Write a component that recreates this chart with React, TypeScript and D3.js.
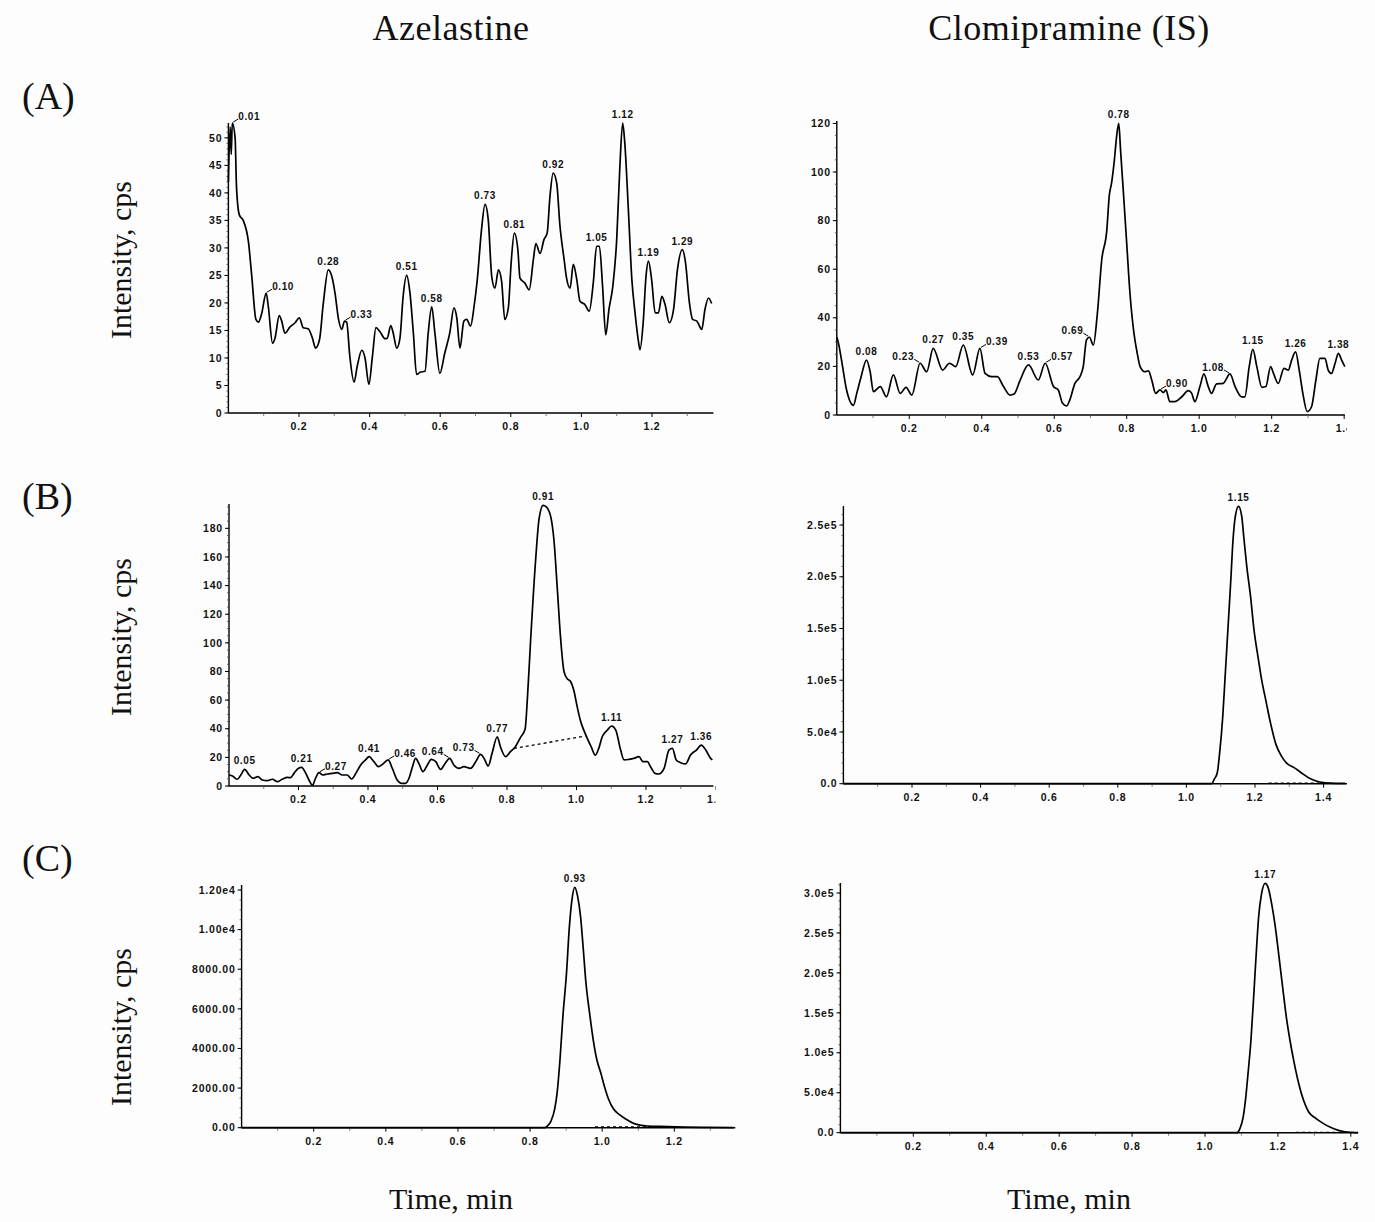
import React from 'react';
import * as d3 from 'd3';

const W = 1375;
const H = 1222;

// ---------- DATA ----------
const colTitles = ['Azelastine', 'Clomipramine (IS)'];
const rowTitles = ['(A)', '(B)', '(C)'];
const yTitle = 'Intensity, cps';
const xTitle = 'Time, min';

// (A) Azelastine blank
const aAze: [number, number][] = [
  [0.000,42],[0.005,52],[0.008,47],[0.011,52.7],[0.019,50],[0.023,41],[0.031,36],[0.042,35],[0.057,31],[0.066,25],
  [0.078,17],[0.085,16.5],[0.094,18],[0.107,21.8],[0.113,19.4],[0.125,12.7],[0.132,13.6],[0.144,17.7],[0.151,16.7],[0.160,14.5],
  [0.174,15.6],[0.189,16.4],[0.201,17.3],[0.212,15.5],[0.226,15.3],[0.238,13.6],[0.247,11.8],[0.258,13.3],[0.269,20],[0.283,26],
  [0.293,24.8],[0.302,21.8],[0.312,17],[0.321,15.2],[0.329,16.7],[0.335,16.5],[0.344,10.3],[0.356,5.6],[0.365,8.5],[0.378,11.4],
  [0.387,10],[0.398,5.2],[0.408,10.3],[0.418,15.5],[0.429,14.8],[0.444,13.5],[0.450,13.6],[0.460,15.9],[0.467,14.5],[0.477,11.8],
  [0.486,13.6],[0.495,21.2],[0.505,25],[0.514,22],[0.524,14.5],[0.533,7],[0.543,7.4],[0.557,7.6],[0.566,14.5],[0.576,19.3],
  [0.585,14.5],[0.599,7.2],[0.613,10.9],[0.627,14.5],[0.639,19.1],[0.647,17.3],[0.656,11.8],[0.667,16.7],[0.675,17],[0.686,15.8],
  [0.696,19.4],[0.705,24.2],[0.717,33.3],[0.727,37.9],[0.736,35.2],[0.746,24.8],[0.755,22.7],[0.765,26],[0.774,23.9],[0.783,17],
  [0.793,19.1],[0.801,27.3],[0.810,32.7],[0.820,29.7],[0.826,24.5],[0.840,23.6],[0.852,22.4],[0.864,27.9],[0.871,30.8],[0.883,29],
  [0.894,31.5],[0.903,32.7],[0.911,39.4],[0.920,43.6],[0.930,41.8],[0.939,34.2],[0.951,27.9],[0.958,24.5],[0.968,22.7],[0.977,27],
  [0.987,24.2],[0.996,20.3],[1.010,19.7],[1.022,18.5],[1.034,23.9],[1.043,30.3],[1.051,30.3],[1.060,23],[1.069,14.2],[1.078,18.8],
  [1.089,23],[1.100,31.5],[1.109,44.8],[1.117,52.7],[1.123,49],[1.133,37],[1.143,24.2],[1.152,18.2],[1.161,13.3],[1.166,11.5],
  [1.175,16.4],[1.183,24.8],[1.190,27.6],[1.199,24.2],[1.209,18.2],[1.218,18.2],[1.228,21.2],[1.237,19.7],[1.249,16.4],[1.261,18.8],
  [1.272,26],[1.286,29.7],[1.295,27.3],[1.306,20],[1.315,17],[1.327,16.7],[1.341,15.2],[1.350,18.8],[1.360,20.9],[1.369,19.9],
];
const aAzePeaks = ['0.01','0.10','0.28','0.33','0.51','0.58','0.73','0.81','0.92','1.05','1.12','1.19','1.29'];
const aAzeSide: Record<string, string> = { '0.01': 'r', '0.10': 'r', '0.33': 'r' };

// (A) Clomipramine blank
const aIs: [number, number][] = [
  [0.000,32],[0.004,30],[0.013,22.6],[0.027,10.3],[0.046,4],[0.055,8.9],[0.066,15.1],[0.082,22.6],[0.092,17.8],[0.101,9.6],
  [0.120,11.7],[0.137,7.5],[0.156,16.5],[0.175,8.9],[0.191,11.4],[0.207,8.2],[0.230,21.3],[0.248,17.8],[0.266,27.4],[0.292,18.5],
  [0.311,21.3],[0.328,19.9],[0.349,28.8],[0.375,16.5],[0.395,27.4],[0.409,17.1],[0.427,15.8],[0.443,15.8],[0.460,11.7],[0.478,8.2],
  [0.489,8.6],[0.506,14.4],[0.529,20.6],[0.556,14.4],[0.575,21.3],[0.598,11.7],[0.611,10.3],[0.623,4.8],[0.634,3.7],[0.643,6.2],
  [0.657,13],[0.671,15.8],[0.680,19.9],[0.689,30.9],[0.697,32],[0.708,28.8],[0.719,41.8],[0.731,63.8],[0.745,76],[0.752,90.5],
  [0.758,95.3],[0.766,105],[0.772,114.5],[0.778,120],[0.783,109],[0.791,91.2],[0.800,70.6],[0.809,50],[0.820,33.6],[0.829,25.4],
  [0.837,19.9],[0.850,17.8],[0.860,18.2],[0.869,14.4],[0.880,8.9],[0.892,10.3],[0.901,9.2],[0.908,10.3],[0.919,5.5],[0.933,5.5],
  [0.952,7.5],[0.970,10],[0.979,9],[0.988,5.5],[1.002,11.7],[1.013,16.9],[1.025,11.7],[1.034,8.9],[1.048,12.8],[1.066,13],
  [1.085,16.9],[1.099,11.7],[1.117,7.5],[1.126,7.5],[1.138,19.9],[1.148,27],[1.159,19.9],[1.173,11.4],[1.184,11.7],[1.197,19.9],
  [1.205,17.1],[1.218,13],[1.234,19.2],[1.246,18.5],[1.255,22.6],[1.266,26],[1.276,18.5],[1.286,8.9],[1.298,1.4],[1.310,3.4],
  [1.322,14.4],[1.333,23.3],[1.347,23.3],[1.356,18.5],[1.365,17.1],[1.375,21.3],[1.384,25.4],[1.393,22.6],[1.402,19.9],
];
const aIsPeaks = ['0.08','0.23','0.27','0.35','0.39','0.53','0.57','0.69','0.78','0.90','1.08','1.15','1.26','1.38'];
const aIsSide: Record<string, string> = { '0.23': 'l', '0.39': 'r', '0.57': 'r', '0.69': 'l', '0.90': 'r', '1.08': 'l' };

// (B) Azelastine LLOQ
const bAze: [number, number][] = [
  [0.000,7.7],[0.010,7],[0.024,4.7],[0.034,7.7],[0.045,11.6],[0.058,7.7],[0.069,5.4],[0.083,6.5],[0.096,4.2],[0.110,3.7],
  [0.125,4.7],[0.139,3],[0.153,4.7],[0.168,6],[0.177,5.8],[0.187,8.8],[0.199,12.3],[0.209,13],[0.221,8.8],[0.230,4.2],
  [0.240,0.5],[0.249,5.4],[0.259,9.3],[0.270,7.7],[0.283,8.4],[0.297,8.8],[0.312,9.3],[0.326,7.7],[0.340,7.7],[0.353,4.9],
  [0.365,8.8],[0.379,14.7],[0.393,18.2],[0.403,20.5],[0.417,17],[0.430,13.5],[0.443,15.4],[0.458,18.2],[0.470,12.3],[0.484,4.2],
  [0.497,1.9],[0.508,1.9],[0.518,5.4],[0.528,13.5],[0.537,19.3],[0.547,15.4],[0.558,10],[0.571,14.7],[0.582,18.6],[0.595,17],
  [0.609,11.6],[0.621,15.4],[0.635,19.3],[0.647,14.7],[0.662,12.3],[0.676,13.5],[0.695,12.3],[0.710,17],[0.724,22.1],[0.734,19.3],
  [0.746,14],[0.757,22.8],[0.772,34.4],[0.781,27.5],[0.796,20.5],[0.810,24],[0.823,27],[0.839,34],[0.852,39.6],[0.859,62.4],
  [0.868,102],[0.883,160],[0.892,186],[0.904,196],[0.913,195],[0.926,188],[0.935,172],[0.945,137],[0.954,104],[0.964,80],
  [0.973,75],[0.983,73],[0.992,67],[1.002,55.4],[1.011,46],[1.021,39],[1.031,33.3],[1.043,27],[1.054,21.6],[1.064,26.3],
  [1.074,34.4],[1.089,39.1],[1.101,41.9],[1.113,39.1],[1.127,25.1],[1.137,18.2],[1.151,18.6],[1.165,19.3],[1.180,20.5],[1.191,17],
  [1.204,17],[1.213,13.5],[1.226,8.8],[1.237,8.4],[1.252,12.3],[1.266,25.1],[1.276,26.3],[1.287,18.2],[1.300,16.3],[1.314,15.4],
  [1.328,21.6],[1.345,25.1],[1.359,28.6],[1.372,25.1],[1.386,19.3],[1.391,18.2],
];
const bAzeBase: [number, number][] = [[0.820,26.3],[1.026,34.9]];
const bAzePeaks = ['0.05','0.21','0.27','0.41','0.46','0.64','0.73','0.77','0.91','1.11','1.27','1.36'];
const bAzeSide: Record<string, string> = { '0.27': 'r', '0.46': 'r', '0.64': 'l', '0.73': 'l' };

// (B) Clomipramine
const bIs: [number, number][] = [
  [0,0],[1.074,0],[1.081,4200],[1.090,10600],[1.097,30000],[1.106,65000],[1.113,104000],[1.121,149000],[1.129,194000],[1.136,236000],
  [1.142,257000],[1.152,268000],[1.161,259000],[1.168,236000],[1.176,210000],[1.187,181000],[1.197,149000],[1.210,120000],[1.219,101000],[1.231,81500],
  [1.245,59000],[1.261,38000],[1.277,26700],[1.293,19700],[1.314,15500],[1.335,10600],[1.356,5800],[1.378,2600],[1.399,1000],[1.420,600],[1.463,300],
];
const bIsBase: [number, number][] = [[1.24,600],[1.42,600]];
const bIsPeaks = ['1.15'];

// (C) Azelastine sample
const cAze: [number, number][] = [
  [0,0],[0.840,0],[0.848,84],[0.858,336],[0.868,923],[0.875,1762],[0.883,3440],[0.891,5621],[0.901,7803],[0.909,10152],
  [0.916,11494],[0.924,12132],[0.932,11662],[0.940,10655],[0.947,9145],[0.955,7299],[0.965,5789],[0.975,4447],[0.985,3440],[0.996,2769],
  [1.006,2098],[1.018,1426],[1.031,956],[1.047,671],[1.067,420],[1.087,218],[1.108,117],[1.128,84],[1.159,67],[1.230,34],[1.290,17],[1.364,0],
];
const cAzeBase: [number, number][] = [[0.98,40],[1.16,40]];
const cAzePeaks = ['0.93'];

// (C) Clomipramine sample
const cIs: [number, number][] = [
  [0,0],[1.088,0],[1.096,5400],[1.104,17900],[1.111,40800],[1.118,74000],[1.126,115700],[1.134,174000],[1.141,228000],[1.147,269600],
  [1.155,298800],[1.165,312000],[1.173,307000],[1.183,286000],[1.193,257000],[1.203,220000],[1.213,182000],[1.223,145000],[1.233,115700],[1.245,86500],
  [1.257,61600],[1.270,40800],[1.284,26200],[1.304,17900],[1.324,11700],[1.344,6700],[1.364,3300],[1.384,1200],[1.404,400],[1.420,0],
];
const cIsBase: [number, number][] = [[1.25,500],[1.39,500]];
const cIsPeaks = ['1.17'];

// tick values / labels
const xTicks12 = [0.2, 0.4, 0.6, 0.8, 1.0, 1.2];
const xTicks14 = [0.2, 0.4, 0.6, 0.8, 1.0, 1.2, 1.4];
const yTicksA1 = [0, 5, 10, 15, 20, 25, 30, 35, 40, 45, 50];
const yTicksA2 = [0, 20, 40, 60, 80, 100, 120];
const yTicksB1 = [0, 20, 40, 60, 80, 100, 120, 140, 160, 180];
const yTicksB2 = [0, 50000, 100000, 150000, 200000, 250000];
const yLabelsB2 = ['0.0', '5.0e4', '1.0e5', '1.5e5', '2.0e5', '2.5e5'];
const yTicksC1 = [0, 2000, 4000, 6000, 8000, 10000, 12000];
const yLabelsC1 = ['0.00', '2000.00', '4000.00', '6000.00', '8000.00', '1.00e4', '1.20e4'];
const yTicksC2 = [0, 50000, 100000, 150000, 200000, 250000, 300000];
const yLabelsC2 = ['0.0', '5.0e4', '1.0e5', '1.5e5', '2.0e5', '2.5e5', '3.0e5'];

// ---------- LAYOUT ----------
type Panel = {
  id: string; data: [number, number][]; base?: [number, number][];
  peaks: string[]; side?: Record<string, string>;
  x0: number; kx: number; xMax: number; yZero: number; yTop: number; yMax: number;
  xTicks: number[]; yTicks: number[]; yLabels?: string[]; yMinor: number;
};

const panels: Panel[] = [
  { id: 'a1', data: aAze, peaks: aAzePeaks, side: aAzeSide, x0: 228.4, kx: 353, xMax: 1.374, yZero: 413, yTop: 123, yMax: 52.7,
    xTicks: xTicks12, yTicks: yTicksA1, yMinor: 1 },
  { id: 'a2', data: aIs, peaks: aIsPeaks, side: aIsSide, x0: 836.8, kx: 362.4, xMax: 1.402, yZero: 415, yTop: 121, yMax: 121,
    xTicks: xTicks14, yTicks: yTicksA2, yMinor: 5 },
  { id: 'b1', data: bAze, base: bAzeBase, peaks: bAzePeaks, side: bAzeSide, x0: 229, kx: 347.5, xMax: 1.394, yZero: 786, yTop: 504, yMax: 197,
    xTicks: xTicks14, yTicks: yTicksB1, yMinor: 5 },
  { id: 'b2', data: bIs, base: bIsBase, peaks: bIsPeaks, x0: 843.4, kx: 343, xMax: 1.468, yZero: 783.7, yTop: 506, yMax: 268400,
    xTicks: xTicks14, yTicks: yTicksB2, yLabels: yLabelsB2, yMinor: 10000 },
  { id: 'c1', data: cAze, base: cAzeBase, peaks: cAzePeaks, x0: 241.6, kx: 360.6, xMax: 1.369, yZero: 1127.7, yTop: 885, yMax: 12252,
    xTicks: xTicks12, yTicks: yTicksC1, yLabels: yLabelsC1, yMinor: 500 },
  { id: 'c2', data: cIs, base: cIsBase, peaks: cIsPeaks, x0: 840.4, kx: 364.6, xMax: 1.42, yZero: 1132.7, yTop: 883, yMax: 312500,
    xTicks: xTicks14, yTicks: yTicksC2, yLabels: yLabelsC2, yMinor: 10000 },
];

const SANS = "'Liberation Sans', Arial, Helvetica, sans-serif";
const SERIF = "'Liberation Serif', 'Times New Roman', Times, serif";

function PanelView({ p }: { p: Panel }) {
  const xEnd = p.x0 + p.xMax * p.kx;
  const x = d3.scaleLinear().domain([0, p.xMax]).range([p.x0, xEnd]);
  const y = d3.scaleLinear().domain([0, p.yMax]).range([p.yZero, p.yTop]);
  const line = d3.line<[number, number]>().x(d => x(d[0])).y(d => y(d[1])).curve(d3.curveMonotoneX);
  const straight = d3.line<[number, number]>().x(d => x(d[0])).y(d => y(d[1]));

  const minorY: number[] = [];
  for (let v = 0; v <= p.yMax + 1e-9; v += p.yMinor) minorY.push(v);
  const minorX: number[] = [];
  for (let v = 0.1; v <= p.xMax + 1e-9; v += 0.2) minorX.push(v);

  const peakPoint = (t: number): [number, number] => {
    const win = p.data.filter(d => Math.abs(d[0] - t) <= 0.015);
    const cand = win.length ? win : [p.data.reduce((a, b) => (Math.abs(b[0] - t) < Math.abs(a[0] - t) ? b : a))];
    return cand.reduce((a, b) => (b[1] > a[1] ? b : a));
  };

  const clipId = `clip-${p.id}`;
  const tickFont = { fontFamily: SANS, fontSize: 10.5, fontWeight: 700, letterSpacing: 0.8, fill: '#111' };

  return (
    <g>
      <defs>
        <clipPath id={clipId}>
          <rect x={p.x0 - 60} y={p.yTop - 30} width={xEnd - p.x0 + 62} height={p.yZero - p.yTop + 60} />
        </clipPath>
      </defs>
      {/* axes */}
      <line x1={p.x0} x2={p.x0} y1={p.yTop} y2={p.yZero} stroke="#000" strokeWidth={1.4} />
      <line x1={p.x0} x2={xEnd} y1={p.yZero} y2={p.yZero} stroke="#000" strokeWidth={1.4} />
      {minorY.map((v, i) => (
        <line key={'my' + i} x1={p.x0 - 2} x2={p.x0} y1={y(v)} y2={y(v)} stroke="#444" strokeWidth={0.8} />
      ))}
      {p.yTicks.map((v, i) => (
        <g key={'yt' + i}>
          <line x1={p.x0 - 4} x2={p.x0} y1={y(v)} y2={y(v)} stroke="#000" strokeWidth={1} />
          <text x={p.x0 - 6} y={y(v)} dy="0.35em" textAnchor="end" {...tickFont}>
            {p.yLabels ? p.yLabels[i] : String(v)}
          </text>
        </g>
      ))}
      {minorX.map((v, i) => (
        <line key={'mx' + i} x1={x(v)} x2={x(v)} y1={p.yZero} y2={p.yZero + 3} stroke="#555" strokeWidth={0.8} />
      ))}
      <g clipPath={`url(#${clipId})`}>
        {p.xTicks.map((v, i) => (
          <g key={'xt' + i}>
            <line x1={x(v)} x2={x(v)} y1={p.yZero} y2={p.yZero + 4} stroke="#000" strokeWidth={1} />
            <text x={x(v)} y={p.yZero + 17} textAnchor="middle" {...tickFont}>{d3.format('.1f')(v)}</text>
          </g>
        ))}
      </g>
      {/* trace */}
      <path d={line(p.data) || ''} fill="none" stroke="#000" strokeWidth={1.7} strokeLinejoin="round" />
      {p.base && (
        <path d={straight(p.base) || ''} fill="none" stroke="#000" strokeWidth={1.3} strokeDasharray="3,3" />
      )}
      {/* peak labels */}
      {p.peaks.map((lab, i) => {
        const t = parseFloat(lab);
        const pk = peakPoint(t);
        const px = x(pk[0]);
        const py = y(pk[1]);
        const mode = (p.side && p.side[lab]) || 'c';
        const f = { fontFamily: SANS, fontSize: 10, fontWeight: 700, letterSpacing: 0.6, fill: '#111' };
        if (mode === 'r') {
          return (
            <g key={'pk' + i}>
              <line x1={px + 1} y1={py - 1} x2={px + 6} y2={py - 4} stroke="#000" strokeWidth={1} />
              <text x={px + 6} y={py - 3} textAnchor="start" {...f}>{lab}</text>
            </g>
          );
        }
        if (mode === 'l') {
          return (
            <g key={'pk' + i}>
              <line x1={px - 6} y1={py - 4} x2={px - 1} y2={py - 1} stroke="#000" strokeWidth={1} />
              <text x={px - 6} y={py - 3} textAnchor="end" {...f}>{lab}</text>
            </g>
          );
        }
        return (
          <text key={'pk' + i} x={px} y={py - 5} textAnchor="middle" {...f}>{lab}</text>
        );
      })}
    </g>
  );
}

export default function App() {
  const titleStyle = { fontFamily: SERIF, fontSize: 36, fill: '#111', letterSpacing: 0.5 };
  const rowStyle = { fontFamily: SERIF, fontSize: 38, fill: '#111' };
  const axisTitle = { fontFamily: SERIF, fontSize: 30, fill: '#111' };
  const rowY = [109, 509, 871];
  const yTitleY = [260, 637, 1027];
  const colX = [451, 1069];
  return (
    <svg width={W} height={H} style={{ position: 'absolute', left: 0, top: 0, background: '#fff' }}>
      <rect x={0} y={0} width={W} height={H} fill="#fdfdfd" />
      {colTitles.map((t, i) => (
        <text key={'ct' + i} x={colX[i]} y={40} textAnchor="middle" {...titleStyle}>{t}</text>
      ))}
      {rowTitles.map((t, i) => (
        <text key={'rt' + i} x={22} y={rowY[i]} {...rowStyle}>{t}</text>
      ))}
      {yTitleY.map((cy, i) => (
        <text key={'yt' + i} transform={`translate(131,${cy}) rotate(-90)`} textAnchor="middle" {...axisTitle}>{yTitle}</text>
      ))}
      {colX.map((cx, i) => (
        <text key={'xt' + i} x={cx} y={1209} textAnchor="middle" {...axisTitle}>{xTitle}</text>
      ))}
      {panels.map(p => <PanelView key={p.id} p={p} />)}
    </svg>
  );
}
